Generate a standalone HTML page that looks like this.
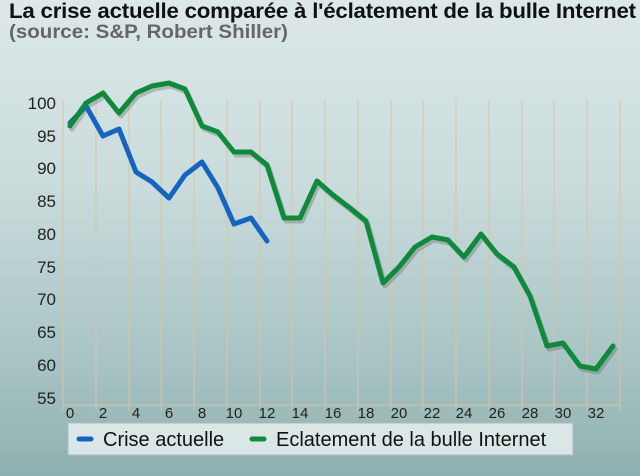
<!DOCTYPE html>
<html><head><meta charset="utf-8"><style>
html,body{margin:0;padding:0}
body{width:640px;height:476px;overflow:hidden;background:linear-gradient(#dde8e8 0%,#c9dbdb 40%,#a9c4c4 75%,#8fb0b0 100%);font-family:"Liberation Sans",sans-serif;position:relative}
.t{position:absolute;left:9px;top:0px;font-size:21px;font-weight:bold;color:#111;letter-spacing:-0.2px;transform:scaleX(1.06);transform-origin:0 0;white-space:nowrap}
.s{position:absolute;left:9px;top:22px;font-size:19px;font-weight:bold;color:#666;transform:scaleX(1.08);transform-origin:0 0;white-space:nowrap}
</style></head><body>
<div class="t">La crise actuelle comparée à l'éclatement de la bulle Internet</div>
<div class="s">(source: S&amp;P, Robert Shiller)</div>
<svg width="640" height="476" style="position:absolute;left:0;top:0" font-family="Liberation Sans, sans-serif">
<g stroke="#dcc3a3" stroke-width="1">
<line x1="63" y1="100" x2="63" y2="410"/><line x1="96" y1="100" x2="96" y2="410"/><line x1="129" y1="100" x2="129" y2="410"/><line x1="161" y1="100" x2="161" y2="410"/><line x1="194" y1="100" x2="194" y2="410"/><line x1="227" y1="100" x2="227" y2="410"/><line x1="260" y1="100" x2="260" y2="410"/><line x1="292" y1="100" x2="292" y2="410"/><line x1="325" y1="100" x2="325" y2="410"/><line x1="358" y1="100" x2="358" y2="410"/><line x1="391" y1="100" x2="391" y2="410"/><line x1="423" y1="100" x2="423" y2="410"/><line x1="456" y1="100" x2="456" y2="410"/><line x1="489" y1="100" x2="489" y2="410"/><line x1="522" y1="100" x2="522" y2="410"/><line x1="554" y1="100" x2="554" y2="410"/><line x1="587" y1="100" x2="587" y2="410"/><line x1="620" y1="100" x2="620" y2="410"/>
<line x1="63" y1="405" x2="620" y2="405"/>
</g>
<g font-size="17" fill="#222" text-anchor="end">
<text x="56" y="109">100</text><text x="56" y="142">95</text><text x="56" y="174">90</text><text x="56" y="207">85</text><text x="56" y="240">80</text><text x="56" y="273">75</text><text x="56" y="305">70</text><text x="56" y="338">65</text><text x="56" y="371">60</text><text x="56" y="404">55</text>
</g>
<g font-size="15" fill="#222" text-anchor="middle">
<text x="70" y="418">0</text><text x="103" y="418">2</text><text x="136" y="418">4</text><text x="169" y="418">6</text><text x="202" y="418">8</text><text x="234" y="418">10</text><text x="267" y="418">12</text><text x="300" y="418">14</text><text x="333" y="418">16</text><text x="366" y="418">18</text><text x="399" y="418">20</text><text x="432" y="418">22</text><text x="464" y="418">24</text><text x="497" y="418">26</text><text x="530" y="418">28</text><text x="563" y="418">30</text><text x="596" y="418">32</text>
</g>
<g fill="none" stroke-linejoin="round" stroke-linecap="round">
<polyline stroke="rgba(60,60,60,0.25)" stroke-width="5" transform="translate(2,3)" points="70,126 86,103 103,93 119,113 136,93 152,86 169,83 185,89 202,126 218,132 234,152 251,152 267,165 284,218 300,218 317,181 333,195 350,208 366,221 383,283 399,267 415,247 432,237 448,240 464,257 481,234 497,254 514,267 530,296 547,346 563,343 580,366 596,369 613,346"/>
<polyline stroke="#1565c0" stroke-width="5" points="70,123 86,106 103,136 119,129 136,172 152,182 169,198 185,175 202,162 218,188 234,224 251,218 267,241"/>
<polyline stroke="#0f8a3c" stroke-width="5" points="70,126 86,103 103,93 119,113 136,93 152,86 169,83 185,89 202,126 218,132 234,152 251,152 267,165 284,218 300,218 317,181 333,195 350,208 366,221 383,283 399,267 415,247 432,237 448,240 464,257 481,234 497,254 514,267 530,296 547,346 563,343 580,366 596,369 613,346"/>
</g>
<rect x="68" y="423" width="505" height="32" fill="#dbe7e6" stroke="#aebcbc" stroke-width="1"/>
<line x1="79" y1="439" x2="91" y2="439" stroke="#1565c0" stroke-width="5" stroke-linecap="round"/>
<line x1="252" y1="439" x2="264" y2="439" stroke="#0f8a3c" stroke-width="5" stroke-linecap="round"/>
<text x="103" y="446" font-size="20" fill="#111">Crise actuelle</text>
<text x="276" y="446" font-size="20" fill="#111">Eclatement de la bulle Internet</text>
</svg>
</body></html>
